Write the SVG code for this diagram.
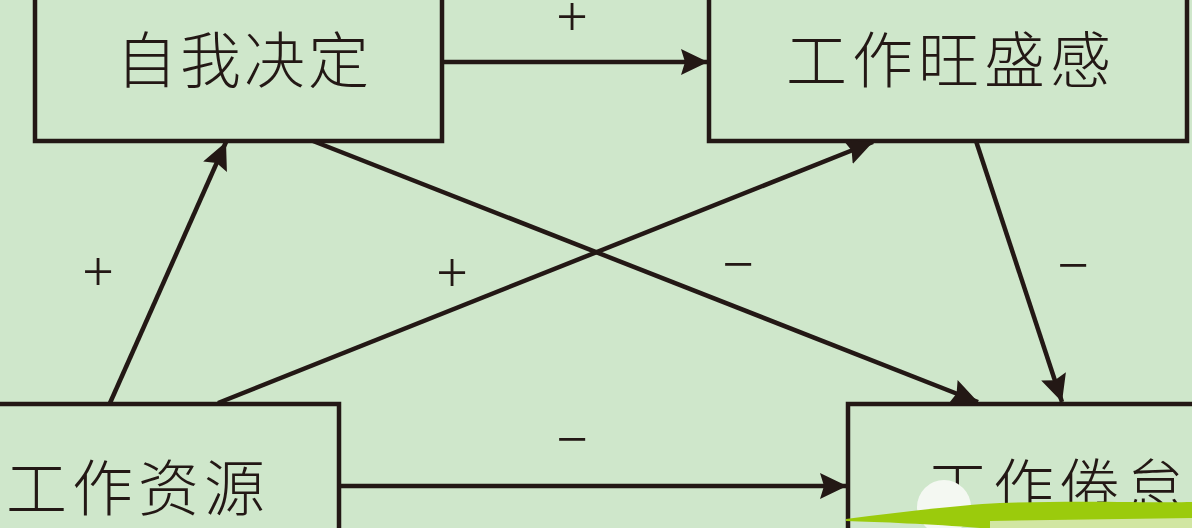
<svg xmlns="http://www.w3.org/2000/svg" width="1192" height="528" viewBox="0 0 1192 528">
<style>
.box{fill:#cfe7cb;stroke:#231815;stroke-width:4.5}
.lbl{font-family:"Noto Sans CJK SC","Noto Sans CJK JP",sans-serif;font-size:61px;font-weight:300;fill:#231815;text-anchor:middle}
.sign{font-family:"Liberation Serif",serif;font-size:56px;fill:#231815;text-anchor:middle}
.edge{stroke:#231815;stroke-width:4.5;fill:none;marker-end:url(#ah)}
</style>
<defs>
<marker id="ah" markerUnits="userSpaceOnUse" markerWidth="32" markerHeight="28" refX="27" refY="13" orient="auto">
<path d="M0,0 L27,13 L0,26 L4,13 z" fill="#231815"/>
</marker>
</defs>
<rect width="1192" height="528" fill="#cfe7cb"/>
<g id="self-determination">
<rect class="box" x="35" y="-10" width="407" height="151"/>
<text class="lbl" x="244" y="83" style="letter-spacing:3px">自我决定</text>
</g>
<g id="work-engagement">
<rect class="box" x="709" y="-10" width="478" height="151"/>
<text class="lbl" x="951" y="83" style="letter-spacing:5px">工作旺盛感</text>
</g>
<g id="job-resources">
<rect class="box" x="-10" y="404" width="349" height="140"/>
<text class="lbl" x="138" y="511" style="letter-spacing:5px">工作资源</text>
</g>
<g id="job-burnout">
<rect class="box" x="848" y="404" width="360" height="140"/>
<text class="lbl" x="1059" y="510" style="letter-spacing:5px">工作倦怠</text>
</g>
<g id="connectors">
<line class="edge" x1="444" y1="62" x2="708" y2="62"/>
<line class="edge" x1="110" y1="403" x2="226" y2="142"/>
<line class="edge" x1="218" y1="403" x2="873" y2="142"/>
<line class="edge" x1="313" y1="141" x2="978" y2="402"/>
<line class="edge" x1="976" y1="141" x2="1062" y2="402"/>
<line class="edge" x1="341" y1="486" x2="847" y2="486"/>
</g>
<g id="signs">
<text class="sign" x="572" y="36">+</text>
<text class="sign" x="98" y="291">+</text>
<text class="sign" x="452" y="292">+</text>
<text class="sign" x="738" y="283">−</text>
<text class="sign" x="1073" y="284">−</text>
<text class="sign" x="572" y="458">−</text>
</g>
<g id="watermark">
<circle cx="944" cy="507" r="27" fill="#f4f8f2"/>
<path d="M846,519 C900,512 960,505 1000,503 C1080,500 1150,503 1192,502 L1192,528 L980,528 C930,524 880,522 846,521 z" fill="#9bcb0c"/>
<path d="M990,521 L1192,518 L1192,528 L990,528 z" fill="#e8f1e2" opacity="0.7"/>
</g>
</svg>
